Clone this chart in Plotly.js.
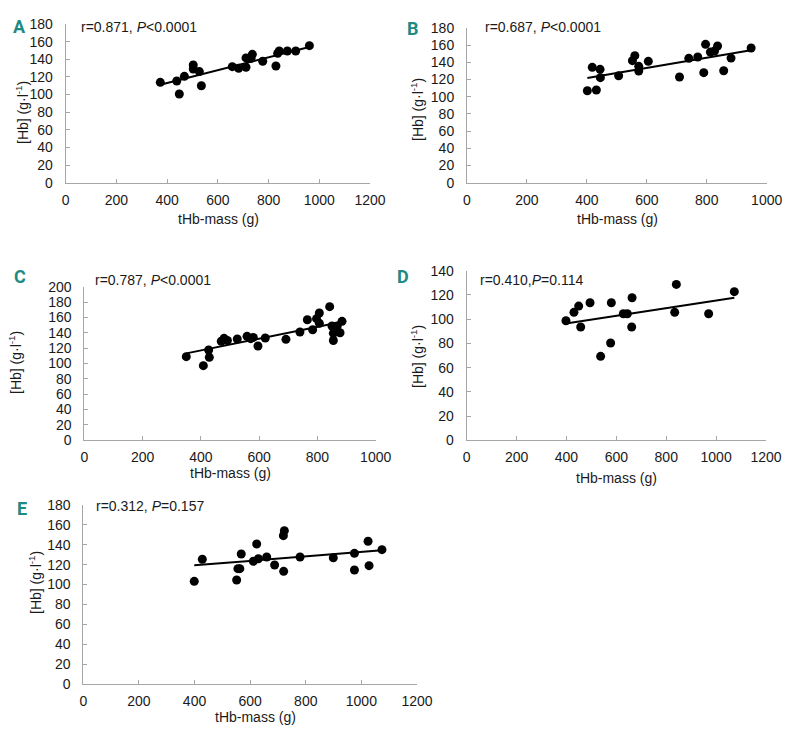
<!DOCTYPE html>
<html>
<head>
<meta charset="utf-8">
<script src="https://cdn.plot.ly/plotly-3.0.1.min.js"></script>
<style>html,body{margin:0;padding:0;background:#fff;}#chart{width:792px;height:733px;}</style>
</head>
<body>
<div id="chart"></div>
<script>
// Panel A
const aX = [373, 438, 448, 468, 503, 503, 527, 535, 657, 682, 711, 711, 736, 731, 777, 829, 836, 842, 874, 907, 961];
const aY = [113.8, 115.4, 100.6, 120.6, 133.5, 129, 126, 110, 131.6, 129.7, 131, 141.5, 145.6, 141, 137.7, 132.4, 146.7, 149.4, 149.4, 149.4, 155.4];
const aFitX = [373, 961];
const aFitY = [111, 154];
// Panel B
const bX = [401.6, 431.6, 418, 444, 445, 506, 552, 560, 573, 573, 605, 709, 740, 770, 790, 796, 812, 826, 836, 856.5, 881, 948];
const bY = [107, 107.8, 134.2, 131.9, 122.2, 124.5, 142, 147.8, 135.4, 130, 141.2, 123, 144.7, 146.2, 128, 161, 152, 153.2, 159, 130.3, 145, 156.7];
const bFitX = [401.6, 947];
const bFitY = [121.8, 154];
// Panel C
const cX = [350, 408.5, 426.8, 429, 470, 479.5, 491, 525, 558.4, 571, 580, 596, 621, 692, 740, 765.4, 783.6, 797, 806.6, 806.6, 842, 850, 854.7, 854.7, 868, 877.6, 884.4];
const cY = [108.9, 97.2, 117.6, 108, 128.9, 132.8, 130, 131.9, 135.4, 132.3, 134, 122.8, 133.2, 131.5, 141, 157, 144, 158.4, 165.7, 152.3, 174, 148.8, 139.3, 130, 148.8, 140, 154.9];
const cFitX = [350, 877.6];
const cFitY = [113.2, 153.6];
// Panel D
const dX = [398, 430, 449, 457, 494.5, 537, 577, 580, 628, 644, 663, 661.5, 834, 840.5, 970, 1073];
const dY = [98.7, 105.6, 110.8, 93.5, 113.5, 69.3, 80.3, 113.5, 104.5, 104.5, 117.7, 93.5, 105.6, 128.7, 104.5, 122.7];
const dFitX = [398, 1073];
const dFitY = [96.5, 117.7];
// Panel E
const eX = [399, 428, 551.5, 556, 563, 568, 611.5, 623.5, 629.5, 659.5, 688, 720.5, 719.5, 723, 779.4, 899, 975, 975, 1024, 1027.6, 1074];
const eY = [103.2, 125.4, 104.6, 116, 116, 130.7, 123.4, 140.8, 126, 127.7, 119.7, 113.3, 149.2, 154.2, 127.7, 127, 131.4, 114.6, 143.5, 119, 135.1];
const eFitX = [399, 1074];
const eFitY = [119.3, 134.4];

const panelLetters = ['A', 'B', 'C', 'D', 'E'];
const statTexts = [
  'r=0.871, <i>P</i>&lt;0.0001',
  'r=0.687, <i>P</i>&lt;0.0001',
  'r=0.787, <i>P</i>&lt;0.0001',
  'r=0.410,<i>P</i>=0.114',
  'r=0.312, <i>P</i>=0.157'
];
const xTitle = 'tHb-mass (g)';
const yTitle = '[Hb] (g·l<sup>-1</sup>)';

const panels = [
  {x: aX, y: aY, fx: aFitX, fy: aFitY, xr: [0, 1200], yr: [0, 180], dy: 20},
  {x: bX, y: bY, fx: bFitX, fy: bFitY, xr: [0, 1000], yr: [0, 180], dy: 20},
  {x: cX, y: cY, fx: cFitX, fy: cFitY, xr: [0, 1000], yr: [0, 200], dy: 20},
  {x: dX, y: dY, fx: dFitX, fy: dFitY, xr: [0, 1200], yr: [0, 140], dy: 20},
  {x: eX, y: eY, fx: eFitX, fy: eFitY, xr: [0, 1200], yr: [0, 180], dy: 20}
];

// plot-area pixel boxes [left, right, top, bottom]
const W = 792, H = 733;
const boxes = [
  [65.7, 370, 24, 182.7],
  [467, 766.7, 28, 182.7],
  [84.3, 375.7, 286.7, 440.3],
  [466.7, 766, 270.7, 440.3],
  [83.3, 417, 505, 684]
];
// label positions (pixels)
const letterPos = [[19.5, 27], [413, 28], [19.5, 277], [403, 277], [21.5, 508]];
const statPos = [[78.7, 27], [482.7, 27], [92.7, 280], [478, 280], [94.3, 506]];
const yTitlePos = [[22, 113], [417, 110], [15, 363], [417, 357], [35, 583]];
const xTitlePos = [[218, 219], [617, 219], [230, 473], [616, 478], [255, 717]];

const font = 'Liberation Sans, Arial, sans-serif';
const traces = [];
const layout = {
  width: W, height: H,
  margin: {l: 0, r: 0, t: 0, b: 0},
  paper_bgcolor: '#ffffff', plot_bgcolor: '#ffffff',
  showlegend: false,
  font: {family: font, size: 14, color: '#1a1a1a'},
  annotations: []
};

panels.forEach((p, i) => {
  const n = i === 0 ? '' : String(i + 1);
  const xa = 'x' + n, ya = 'y' + n;
  traces.push({
    x: p.x, y: p.y, xaxis: xa, yaxis: ya, type: 'scatter', mode: 'markers',
    marker: {color: '#000000', size: 9}, hoverinfo: 'skip'
  });
  traces.push({
    x: p.fx, y: p.fy, xaxis: xa, yaxis: ya, type: 'scatter', mode: 'lines',
    line: {color: '#000000', width: 2}, hoverinfo: 'skip'
  });
  const b = boxes[i];
  const axCommon = {
    showgrid: false, zeroline: false, showline: true, linecolor: '#a6a6a6', linewidth: 1,
    ticks: 'inside', ticklen: 4, tickcolor: '#a6a6a6', tickwidth: 1,
    tickfont: {family: font, size: 14, color: '#1a1a1a'}, fixedrange: true
  };
  layout['xaxis' + n] = Object.assign({}, axCommon, {
    domain: [b[0] / W, b[1] / W], anchor: ya, range: p.xr, dtick: 200, tick0: 0,
    ticklabelstandoff: 4
  });
  layout['yaxis' + n] = Object.assign({}, axCommon, {
    domain: [1 - b[3] / H, 1 - b[2] / H], anchor: xa, range: p.yr, dtick: p.dy, tick0: 0,
    ticklabelstandoff: 9
  });
  layout.annotations.push({
    xref: 'paper', yref: 'paper', x: letterPos[i][0] / W, y: 1 - letterPos[i][1] / H,
    xanchor: 'center', yanchor: 'middle', showarrow: false, text: '<b>' + panelLetters[i] + '</b>',
    font: {family: 'Liberation Sans Narrow, Roboto, sans-serif', size: 18, color: '#1f8a84'}
  });
  layout.annotations.push({
    xref: 'paper', yref: 'paper', x: statPos[i][0] / W, y: 1 - statPos[i][1] / H,
    xanchor: 'left', yanchor: 'middle', showarrow: false, text: statTexts[i],
    font: {family: font, size: 14, color: '#1a1a1a'}
  });
  layout.annotations.push({
    xref: 'paper', yref: 'paper', x: yTitlePos[i][0] / W, y: 1 - yTitlePos[i][1] / H,
    xanchor: 'center', yanchor: 'middle', showarrow: false, text: yTitle, textangle: -90,
    font: {family: font, size: 14, color: '#1a1a1a'}
  });
  layout.annotations.push({
    xref: 'paper', yref: 'paper', x: xTitlePos[i][0] / W, y: 1 - xTitlePos[i][1] / H,
    xanchor: 'center', yanchor: 'middle', showarrow: false, text: xTitle,
    font: {family: font, size: 14, color: '#1a1a1a'}
  });
});

Plotly.newPlot('chart', traces, layout, {displayModeBar: false, staticPlot: true});
</script>
</body>
</html>
